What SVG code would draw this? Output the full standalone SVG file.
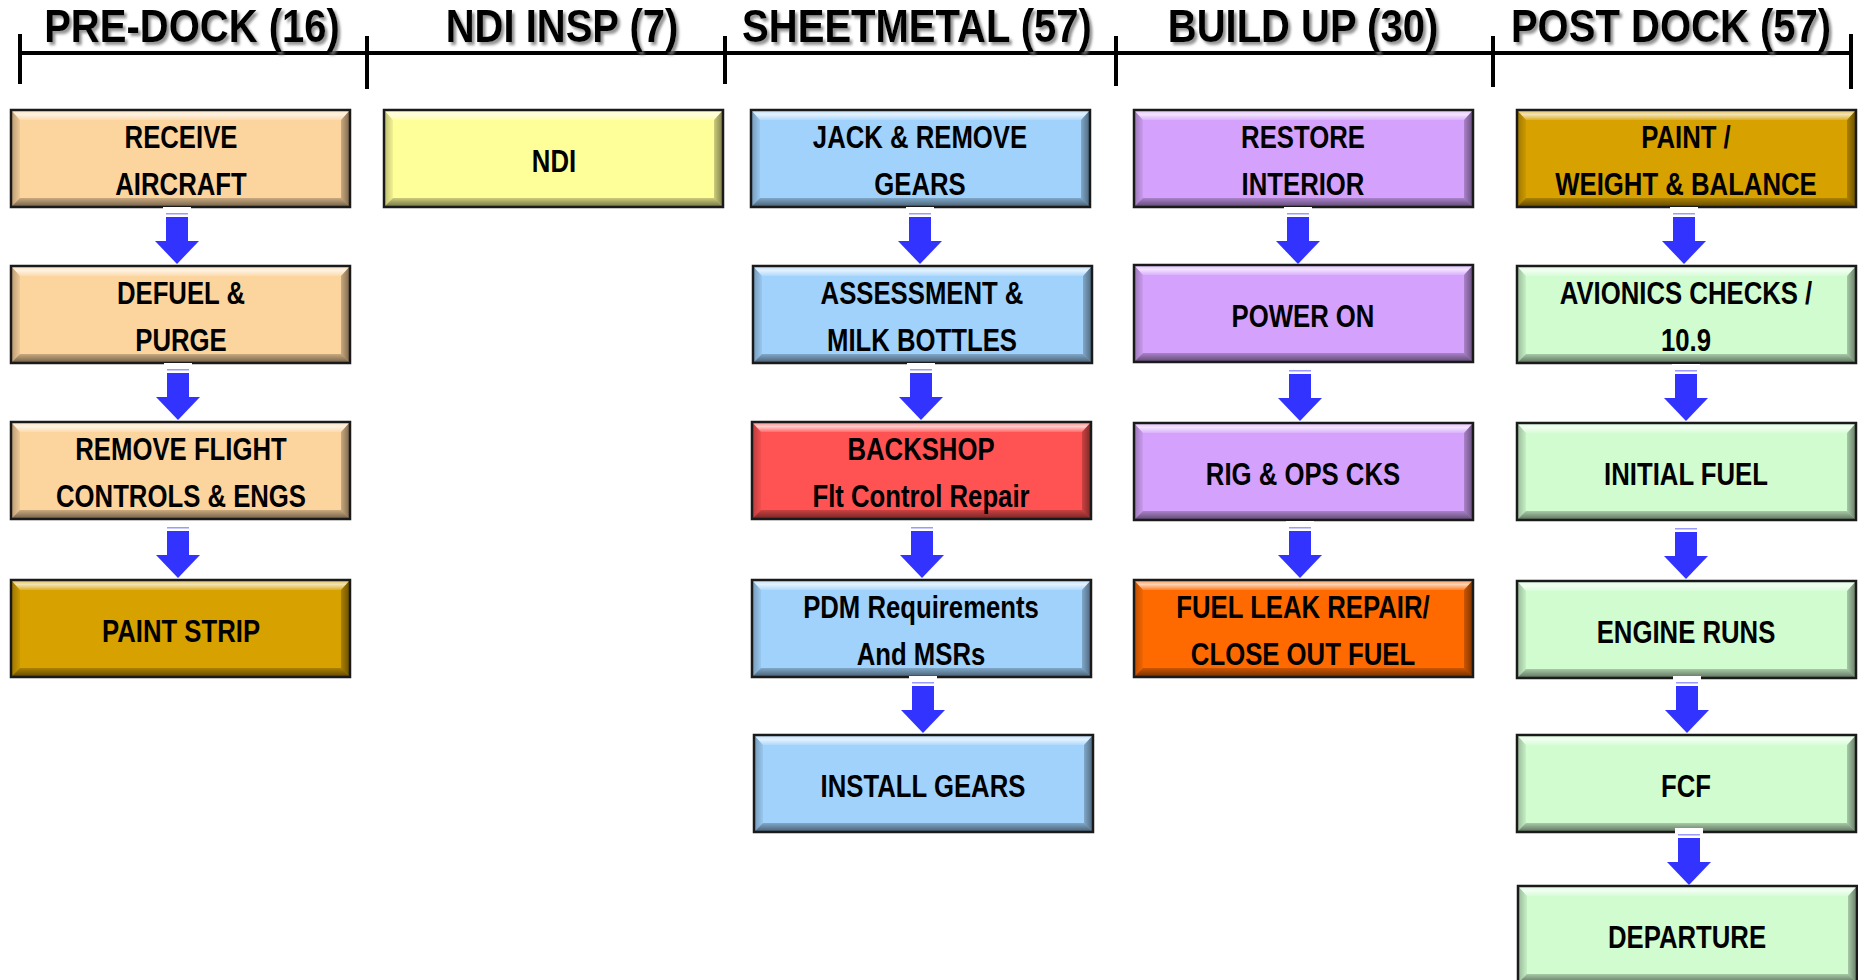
<svg xmlns="http://www.w3.org/2000/svg" xmlns:xlink="http://www.w3.org/1999/xlink" width="1858" height="980" viewBox="0 0 1858 980">
<style>
  .hdr { font-family: "Liberation Sans", Arial, sans-serif; font-weight: bold; font-size: 46px; fill: #000; text-anchor: middle; filter: url(#sh); }
  .lbl { font-family: "Liberation Sans", Arial, sans-serif; font-weight: bold; font-size: 31px; fill: #000; text-anchor: middle; }
  .peach { fill: #FCD49E; }
  .yellow { fill: #FFFF99; }
  .blue { fill: #A0D2FC; }
  .red { fill: #FF5252; }
  .purple { fill: #D4A2FC; }
  .orange { fill: #FF6A00; }
  .gold { fill: #D7A100; }
  .green { fill: #D0FCD0; }
  .tl { stroke: #000; stroke-width: 4; fill: none; }
</style>
<defs>
  <filter id="sh" x="-10%" y="-20%" width="120%" height="150%">
    <feDropShadow dx="3" dy="3" stdDeviation="1.5" flood-color="#777" flood-opacity="0.8"/>
  </filter>
  <linearGradient id="gTop" x1="0" y1="0" x2="0" y2="1">
    <stop offset="0" stop-color="#fff" stop-opacity="0.25"/>
    <stop offset="0.5" stop-color="#fff" stop-opacity="0.7"/>
    <stop offset="1" stop-color="#fff" stop-opacity="0.15"/>
  </linearGradient>
  <linearGradient id="gBot" x1="0" y1="0" x2="0" y2="1">
    <stop offset="0" stop-color="#000" stop-opacity="0.2"/>
    <stop offset="1" stop-color="#000" stop-opacity="0.6"/>
  </linearGradient>
  <linearGradient id="gRight" x1="0" y1="0" x2="1" y2="0">
    <stop offset="0" stop-color="#000" stop-opacity="0.2"/>
    <stop offset="1" stop-color="#000" stop-opacity="0.55"/>
  </linearGradient>
  <linearGradient id="gLeft" x1="0" y1="0" x2="1" y2="0">
    <stop offset="0" stop-color="#000" stop-opacity="0.3"/>
    <stop offset="1" stop-color="#000" stop-opacity="0.05"/>
  </linearGradient>
  <g id="bevel">
    <polygon points="0,0 341,0 331,11 10,11" fill="url(#gTop)"/>
    <polygon points="0,99 341,99 331,89 10,89" fill="url(#gBot)"/>
    <polygon points="0,0 10,11 10,89 0,99" fill="url(#gLeft)"/>
    <polygon points="341,0 331,11 331,89 341,99" fill="url(#gRight)"/>
    <rect x="1" y="1" width="339" height="97" fill="none" stroke="#1a1a1a" stroke-width="2.5"/>
  </g>
  <g id="arr">
    <rect x="-14" y="-1" width="28" height="6" fill="#fff"/>
    <rect x="-11" y="5" width="22" height="1.5" fill="#9a9aff"/>
    <rect x="-11" y="9" width="22" height="25" fill="#3333FF"/>
    <polygon points="-22,33 22,33 0,56" fill="#3333FF"/>
  </g>
</defs>
<rect width="1858" height="980" fill="#fff"/>

<g id="timeline">
  <line class="tl" x1="18" y1="53" x2="1852" y2="53"/>
  <line class="tl" x1="20" y1="34" x2="20" y2="84"/>
  <line class="tl" x1="367" y1="36" x2="367" y2="89"/>
  <line class="tl" x1="725" y1="36" x2="725" y2="84"/>
  <line class="tl" x1="1116" y1="36" x2="1116" y2="86"/>
  <line class="tl" x1="1493" y1="36" x2="1493" y2="87"/>
  <line class="tl" x1="1851" y1="34" x2="1851" y2="89"/>
  <text class="hdr" transform="translate(192,42) scale(0.87,1)">PRE-DOCK (16)</text>
  <text class="hdr" transform="translate(562,42) scale(0.87,1)">NDI INSP (7)</text>
  <text class="hdr" transform="translate(917,42) scale(0.87,1)">SHEETMETAL (57)</text>
  <text class="hdr" transform="translate(1303,42) scale(0.87,1)">BUILD UP (30)</text>
  <text class="hdr" transform="translate(1671,42) scale(0.87,1)">POST DOCK (57)</text>
</g>

<!-- Column 1 -->
<g id="receive-aircraft">
  <rect class="peach" x="10" y="109" width="341" height="99"/><use xlink:href="#bevel" x="10" y="109"/>
  <text class="lbl" transform="translate(181,148) scale(0.83,1)">RECEIVE</text>
  <text class="lbl" transform="translate(181,195) scale(0.83,1)">AIRCRAFT</text>
</g>
<g id="defuel-purge">
  <rect class="peach" x="10" y="265" width="341" height="99"/><use xlink:href="#bevel" x="10" y="265"/>
  <text class="lbl" transform="translate(181,304) scale(0.83,1)">DEFUEL &amp;</text>
  <text class="lbl" transform="translate(181,351) scale(0.83,1)">PURGE</text>
</g>
<g id="remove-flight-controls">
  <rect class="peach" x="10" y="421" width="341" height="99"/><use xlink:href="#bevel" x="10" y="421"/>
  <text class="lbl" transform="translate(181,460) scale(0.83,1)">REMOVE FLIGHT</text>
  <text class="lbl" transform="translate(181,507) scale(0.83,1)">CONTROLS &amp; ENGS</text>
</g>
<g id="paint-strip">
  <rect class="gold" x="10" y="579" width="341" height="99"/><use xlink:href="#bevel" x="10" y="579"/>
  <text class="lbl" transform="translate(181,642) scale(0.83,1)">PAINT STRIP</text>
</g>

<!-- Column 2 -->
<g id="ndi">
  <rect class="yellow" x="383" y="109" width="341" height="99"/><use xlink:href="#bevel" x="383" y="109"/>
  <text class="lbl" transform="translate(554,172) scale(0.83,1)">NDI</text>
</g>

<!-- Column 3 -->
<g id="jack-remove-gears">
  <rect class="blue" x="750" y="109" width="341" height="99"/><use xlink:href="#bevel" x="750" y="109"/>
  <text class="lbl" transform="translate(920,148) scale(0.83,1)">JACK &amp; REMOVE</text>
  <text class="lbl" transform="translate(920,195) scale(0.83,1)">GEARS</text>
</g>
<g id="assessment">
  <rect class="blue" x="752" y="265" width="341" height="99"/><use xlink:href="#bevel" x="752" y="265"/>
  <text class="lbl" transform="translate(922,304) scale(0.83,1)">ASSESSMENT &amp;</text>
  <text class="lbl" transform="translate(922,351) scale(0.83,1)">MILK BOTTLES</text>
</g>
<g id="backshop">
  <rect class="red" x="751" y="421" width="341" height="99"/><use xlink:href="#bevel" x="751" y="421"/>
  <text class="lbl" transform="translate(921,460) scale(0.83,1)">BACKSHOP</text>
  <text class="lbl" transform="translate(921,507) scale(0.83,1)">Flt Control Repair</text>
</g>
<g id="pdm-requirements">
  <rect class="blue" x="751" y="579" width="341" height="99"/><use xlink:href="#bevel" x="751" y="579"/>
  <text class="lbl" transform="translate(921,618) scale(0.83,1)">PDM Requirements</text>
  <text class="lbl" transform="translate(921,665) scale(0.83,1)">And MSRs</text>
</g>
<g id="install-gears">
  <rect class="blue" x="753" y="734" width="341" height="99"/><use xlink:href="#bevel" x="753" y="734"/>
  <text class="lbl" transform="translate(923,797) scale(0.83,1)">INSTALL GEARS</text>
</g>

<!-- Column 4 -->
<g id="restore-interior">
  <rect class="purple" x="1133" y="109" width="341" height="99"/><use xlink:href="#bevel" x="1133" y="109"/>
  <text class="lbl" transform="translate(1303,148) scale(0.83,1)">RESTORE</text>
  <text class="lbl" transform="translate(1303,195) scale(0.83,1)">INTERIOR</text>
</g>
<g id="power-on">
  <rect class="purple" x="1133" y="264" width="341" height="99"/><use xlink:href="#bevel" x="1133" y="264"/>
  <text class="lbl" transform="translate(1303,327) scale(0.83,1)">POWER ON</text>
</g>
<g id="rig-ops">
  <rect class="purple" x="1133" y="422" width="341" height="99"/><use xlink:href="#bevel" x="1133" y="422"/>
  <text class="lbl" transform="translate(1303,485) scale(0.83,1)">RIG &amp; OPS CKS</text>
</g>
<g id="fuel-leak">
  <rect class="orange" x="1133" y="579" width="341" height="99"/><use xlink:href="#bevel" x="1133" y="579"/>
  <text class="lbl" transform="translate(1303,618) scale(0.83,1)">FUEL LEAK REPAIR/</text>
  <text class="lbl" transform="translate(1303,665) scale(0.83,1)">CLOSE OUT FUEL</text>
</g>

<!-- Column 5 -->
<g id="paint-weight-balance">
  <rect class="gold" x="1516" y="109" width="341" height="99"/><use xlink:href="#bevel" x="1516" y="109"/>
  <text class="lbl" transform="translate(1686,148) scale(0.83,1)">PAINT /</text>
  <text class="lbl" transform="translate(1686,195) scale(0.83,1)">WEIGHT &amp; BALANCE</text>
</g>
<g id="avionics-checks">
  <rect class="green" x="1516" y="265" width="341" height="99"/><use xlink:href="#bevel" x="1516" y="265"/>
  <text class="lbl" transform="translate(1686,304) scale(0.83,1)">AVIONICS CHECKS /</text>
  <text class="lbl" transform="translate(1686,351) scale(0.83,1)">10.9</text>
</g>
<g id="initial-fuel">
  <rect class="green" x="1516" y="422" width="341" height="99"/><use xlink:href="#bevel" x="1516" y="422"/>
  <text class="lbl" transform="translate(1686,485) scale(0.83,1)">INITIAL FUEL</text>
</g>
<g id="engine-runs">
  <rect class="green" x="1516" y="580" width="341" height="99"/><use xlink:href="#bevel" x="1516" y="580"/>
  <text class="lbl" transform="translate(1686,643) scale(0.83,1)">ENGINE RUNS</text>
</g>
<g id="fcf">
  <rect class="green" x="1516" y="734" width="341" height="99"/><use xlink:href="#bevel" x="1516" y="734"/>
  <text class="lbl" transform="translate(1686,797) scale(0.83,1)">FCF</text>
</g>
<g id="departure">
  <rect class="green" x="1517" y="885" width="341" height="99"/><use xlink:href="#bevel" x="1517" y="885"/>
  <text class="lbl" transform="translate(1687,948) scale(0.83,1)">DEPARTURE</text>
</g>

<!-- Connectors -->
<g id="connectors">
  <use xlink:href="#arr" x="177" y="208"/>
  <use xlink:href="#arr" x="178" y="364"/>
  <use xlink:href="#arr" x="178" y="522"/>
  <use xlink:href="#arr" x="920" y="208"/>
  <use xlink:href="#arr" x="921" y="364"/>
  <use xlink:href="#arr" x="922" y="522"/>
  <use xlink:href="#arr" x="923" y="677"/>
  <use xlink:href="#arr" x="1298" y="208"/>
  <use xlink:href="#arr" x="1300" y="365"/>
  <use xlink:href="#arr" x="1300" y="522"/>
  <use xlink:href="#arr" x="1684" y="208"/>
  <use xlink:href="#arr" x="1686" y="365"/>
  <use xlink:href="#arr" x="1686" y="523"/>
  <use xlink:href="#arr" x="1687" y="677"/>
  <use xlink:href="#arr" x="1689" y="829"/>
</g>
</svg>
